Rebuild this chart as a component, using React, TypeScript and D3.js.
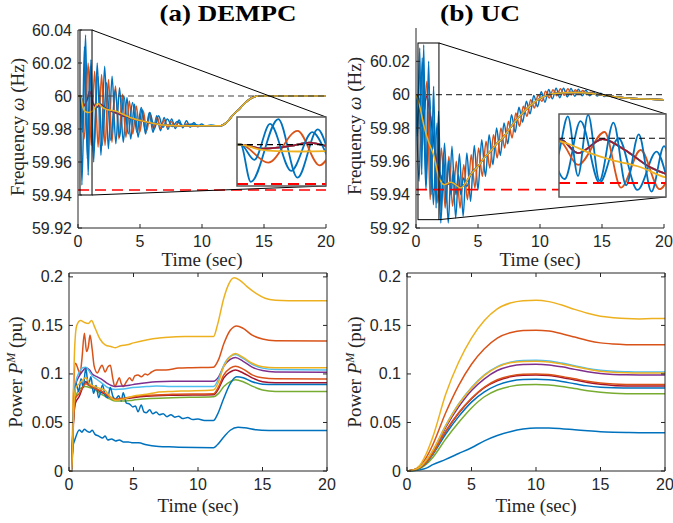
import * as d3 from 'd3'

type Pt = [number, number]

// ---------- data ----------
const timeTicks = [0, 5, 10, 15, 20]
const freqTicksA = [59.92, 59.94, 59.96, 59.98, 60, 60.02, 60.04]
const freqTicksB = [59.92, 59.94, 59.96, 59.98, 60, 60.02]
const powerTicks = [0, 0.05, 0.1, 0.15, 0.2]
const nominalHz = 60
const limitHz = 59.943
const zoomA = { t: [0.16, 1.13], f: [59.94, 60.04] }
const zoomB = { t: [0.16, 1.85], f: [59.925, 60.031] }

// (a) DEMPC frequency, read as peaks / troughs
const fA_blue1: Pt[] = [[0,60],[0.2,60],[0.31,59.946],[0.61,60.037],[0.82,59.952],[1.04,60.022],[1.26,59.96],[1.55,60.02],[1.85,59.964],[2.15,60.018],[2.45,59.968],[2.75,60.012],[3.05,59.971],[3.35,60.005],[3.65,59.972],[3.95,59.999],[4.25,59.974],[4.55,59.995],[4.85,59.975],[5.15,59.992],[5.45,59.977],[5.75,59.99],[6.05,59.978],[6.35,59.988],[6.65,59.979],[6.95,59.987],[7.25,59.9798],[7.55,59.986],[7.85,59.9803],[8.15,59.9855],[8.45,59.9807],[8.75,59.985],[9.05,59.981],[9.35,59.984],[9.65,59.9813],[9.95,59.983],[10.3,59.9818],[10.7,59.9825],[11.1,59.982],[11.5,59.982],[12,59.984],[12.5,59.9885],[13,59.992],[13.5,59.996],[14,59.9988],[14.5,60],[20,60]]
const fA_orange: Pt[] = [[0,60],[0.2,60],[0.5,59.974],[0.82,60.02],[1.06,59.97],[1.34,60.015],[1.62,59.969],[1.9,60.013],[2.18,59.97],[2.46,60.01],[2.74,59.972],[3.02,60.006],[3.3,59.974],[3.58,60.001],[3.86,59.975],[4.14,59.997],[4.42,59.977],[4.7,59.994],[4.98,59.978],[5.26,59.991],[5.54,59.979],[5.82,59.989],[6.1,59.98],[6.38,59.987],[6.66,59.9805],[6.94,59.9855],[7.22,59.981],[7.5,59.9845],[7.8,59.9813],[8.1,59.984],[8.4,59.9815],[8.8,59.983],[9.4,59.982],[11.5,59.982],[12,59.984],[12.5,59.9885],[13,59.992],[13.5,59.996],[14,59.9988],[14.5,60],[20,60]]
const fA_blue2: Pt[] = [[0,60],[0.2,60],[0.35,59.978],[0.52,60.03],[0.75,59.962],[0.98,60.018],[1.25,59.965],[1.6,60.012],[1.95,59.97],[2.3,60.008],[2.65,59.973],[3.0,60.004],[3.35,59.975],[3.7,60.0],[4.05,59.977],[4.4,59.996],[4.75,59.978],[5.1,59.993],[5.45,59.979],[5.8,59.99],[6.15,59.98],[6.5,59.988],[6.85,59.981],[7.2,59.986],[7.6,59.9815],[8.0,59.9845],[8.5,59.982],[9.2,59.983],[10,59.982],[11.5,59.982],[12,59.984],[12.5,59.9885],[13,59.992],[13.5,59.996],[14,59.9988],[14.5,60],[20,60]]
const fA_wave: Pt[] = [[0,60],[0.2,60],[0.45,59.994],[0.75,59.998],[0.95,60.003],[1.2,59.996],[1.5,59.993],[1.8,59.995],[2.2,59.993],[2.6,59.991],[3.0,59.99],[3.6,59.988],[4.2,59.9865],[5.2,59.9848],[6,59.9835],[6.9,59.9824],[8,59.982],[11.5,59.982],[12,59.984],[12.5,59.9885],[13,59.992],[13.5,59.996],[14,59.9988],[14.5,60],[20,60]]
const fA_mean: Pt[] = [[0,60],[0.2,60],[0.4,59.993],[0.6,59.9905],[0.85,59.99],[1.2,59.991],[1.6,59.9955],[2.0,59.993],[2.5,59.9915],[3.0,59.991],[3.6,59.989],[4.2,59.987],[5.2,59.9848],[6,59.9835],[6.9,59.9824],[8,59.982],[11.5,59.982],[12,59.984],[12.5,59.9885],[13,59.992],[13.5,59.996],[14,59.9988],[14.5,60],[20,60]]

// (b) UC frequency
const fB_blue1: Pt[] = [[0,60],[0.25,59.948],[0.5,60.022],[0.8,59.943],[1.1,60.0],[1.4,59.934],[1.7,59.983],[2.0,59.923],[2.3,59.971],[2.6,59.923],[2.9,59.969],[3.2,59.926],[3.5,59.9645],[3.8,59.927],[4.1,59.965],[4.4,59.936],[4.7,59.9695],[5.0,59.943],[5.3,59.973],[5.6,59.951],[5.9,59.976],[6.2,59.958],[6.5,59.98],[6.8,59.9635],[7.1,59.983],[7.4,59.9705],[7.7,59.988],[8.0,59.9775],[8.3,59.9925],[8.6,59.9835],[8.9,59.996],[9.2,59.9885],[9.5,59.9995],[9.8,59.9927],[10.1,60.0018],[10.4,59.9955],[10.7,60.0031],[11.0,59.9975],[11.3,60.0038],[11.6,59.9982],[11.9,60.0039],[12.2,59.9987],[12.5,60.0037],[12.8,59.9991],[13.1,60.0033],[13.4,59.9993],[13.7,60.0026],[14.0,59.9994],[14.3,60.0017],[14.6,59.9992],[14.9,60.0008],[15.2,59.9989],[15.5,59.9996],[16,59.9988],[17,59.998],[18,59.9975],[19,59.9972],[20,59.997]]
const fB_orange: Pt[] = [[0,60],[0.2,59.995],[0.46,59.966],[0.88,60.008],[1.14,59.937],[1.45,59.985],[1.75,59.935],[2.05,59.968],[2.35,59.932],[2.65,59.963],[2.95,59.933],[3.25,59.96],[3.55,59.932],[3.85,59.958],[4.15,59.937],[4.45,59.964],[4.75,59.944],[5.05,59.968],[5.35,59.951],[5.65,59.972],[5.95,59.956],[6.25,59.976],[6.55,59.962],[6.85,59.98],[7.15,59.968],[7.45,59.984],[7.75,59.974],[8.05,59.989],[8.35,59.981],[8.65,59.993],[8.95,59.987],[9.25,59.997],[9.55,59.992],[9.85,60.0],[10.15,59.996],[10.45,60.002],[10.75,59.998],[11.05,60.003],[11.35,59.9993],[11.65,60.0035],[11.95,59.9997],[12.25,60.0035],[12.55,60.0],[12.85,60.003],[13.15,60.0003],[13.45,60.0025],[13.75,60.0002],[14.1,60.0015],[14.5,60.0003],[15,59.9998],[16,59.9988],[17,59.998],[18,59.9975],[19,59.9972],[20,59.997]]
const fB_blue2: Pt[] = [[0,60],[0.12,59.975],[0.3,60.028],[0.46,59.952],[0.62,60.03],[0.8,59.946],[1.02,60.02],[1.22,59.94],[1.42,60.005],[1.62,59.932],[1.82,59.99],[2.02,59.93],[2.22,59.965],[2.42,59.935],[2.62,59.96],[2.82,59.94],[3.02,59.955],[3.22,59.94],[3.42,59.952],[3.62,59.94],[3.82,59.95],[4.1,59.945],[4.4,59.952],[5.0,59.957],[5.5,59.962],[6.0,59.966],[6.5,59.9705],[7.0,59.974],[7.5,59.979],[8,59.984],[8.6,59.989],[9.3,59.994],[10.2,59.9985],[11,60.0005],[12,60.0012],[13,60.0013],[14,60.0008],[15,59.9998],[16,59.9988],[17,59.998],[18,59.9975],[19,59.9972],[20,59.997]]
const fB_wave: Pt[] = [[0,60],[0.2,59.998],[0.46,59.981],[0.85,59.999],[1.2,59.985],[1.6,59.963],[2.0,59.951],[2.4,59.946],[2.8,59.947],[3.2,59.946],[3.6,59.9445],[4.0,59.947],[4.4,59.952],[5.0,59.957],[5.5,59.962],[6.0,59.966],[6.5,59.9705],[7.0,59.974],[7.5,59.979],[8.0,59.984],[8.6,59.989],[9.3,59.994],[10.2,59.9985],[11,60.0005],[12,60.0012],[13,60.0013],[14,60.0008],[15,59.9998],[16,59.9988],[17,59.998],[18,59.9975],[19,59.9972],[20,59.997]]
const fB_mean: Pt[] = [[0,60],[0.3,59.993],[0.65,59.981],[1.0,59.972],[1.45,59.963],[1.85,59.95],[2.3,59.946],[2.8,59.9475],[3.1,59.9465],[3.6,59.944],[4.0,59.947],[4.4,59.952],[5.0,59.957],[5.5,59.962],[6.0,59.966],[6.5,59.9705],[7.0,59.974],[7.5,59.979],[8.0,59.984],[8.6,59.989],[9.3,59.994],[10.2,59.9985],[11,60.0005],[12,60.0012],[13,60.0013],[14,60.0008],[15,59.9998],[16,59.9988],[17,59.998],[18,59.9975],[19,59.9972],[20,59.997]]

// (a) DEMPC mechanical power
const pA_blueLow: Pt[] = [[0,0],[0.2,0],[0.3,0.025],[0.45,0.032],[0.8,0.0423],[1.0,0.04],[1.19,0.043],[1.4,0.041],[1.6,0.04],[1.8,0.042],[2.0,0.038],[2.3,0.036],[2.6,0.034],[2.8,0.036],[3.0,0.032],[3.3,0.033],[3.6,0.031],[3.9,0.032],[4.2,0.03],[4.6,0.03],[4.95,0.029],[5.4,0.029],[6,0.027],[6.76,0.0254],[7.5,0.025],[8.5,0.0245],[11.2,0.024],[11.5,0.027],[12,0.035],[12.5,0.042],[13.1,0.045],[13.6,0.0445],[14.5,0.0425],[15.5,0.0418],[17,0.0416],[20,0.0416]]
const pA_orangeTop: Pt[] = [[0,0],[0.2,0],[0.35,0.08],[0.5,0.111],[0.7,0.105],[0.85,0.1],[1.0,0.115],[1.19,0.142],[1.36,0.123],[1.5,0.128],[1.63,0.14],[1.8,0.125],[1.95,0.108],[2.2,0.101],[2.4,0.106],[2.56,0.109],[2.8,0.102],[3.0,0.107],[3.2,0.109],[3.4,0.095],[3.55,0.087],[3.75,0.092],[3.9,0.096],[4.05,0.09],[4.2,0.087],[4.45,0.092],[4.7,0.096],[4.9,0.093],[5.1,0.098],[5.35,0.099],[5.6,0.097],[5.9,0.1],[6.1,0.099],[6.4,0.102],[6.76,0.104],[7.5,0.104],[8.5,0.106],[9.5,0.1065],[11.2,0.107],[11.6,0.115],[12,0.131],[12.5,0.145],[13,0.1495],[13.5,0.147],[14.2,0.14],[15,0.136],[16,0.1343],[20,0.134]]
const pA_yellowTop: Pt[] = [[0,0],[0.2,0],[0.3,0.06],[0.45,0.13],[0.6,0.15],[0.9,0.155],[1.2,0.153],[1.5,0.152],[1.75,0.155],[2.0,0.148],[2.4,0.136],[2.8,0.13],[3.3,0.128],[3.6,0.127],[4.0,0.129],[4.5,0.13],[5,0.132],[6,0.135],[7,0.137],[8,0.138],[9,0.1385],[11.2,0.1385],[11.5,0.15],[12,0.178],[12.4,0.193],[12.8,0.199],[13.2,0.197],[13.8,0.19],[14.5,0.183],[15.2,0.178],[16,0.176],[17,0.1755],[20,0.1755]]
const pA_purple: Pt[] = [[0,0],[0.2,0],[0.35,0.06],[0.5,0.088],[0.8,0.098],[1.0,0.102],[1.3,0.106],[1.6,0.104],[1.8,0.1],[2.2,0.097],[2.6,0.094],[3.0,0.09],[3.6,0.087],[4.2,0.0875],[4.95,0.089],[6,0.091],[6.76,0.092],[8,0.0925],[11.2,0.0925],[11.6,0.097],[12,0.108],[12.5,0.115],[12.9,0.117],[13.5,0.113],[14.2,0.107],[15,0.1035],[16,0.102],[20,0.1017]]
const pA_green: Pt[] = [[0,0],[0.2,0],[0.3,0.04],[0.5,0.075],[0.8,0.084],[1.0,0.086],[1.3,0.087],[1.6,0.086],[2.0,0.084],[2.4,0.08],[2.8,0.077],[3.2,0.074],[3.6,0.072],[4.2,0.072],[4.95,0.073],[6,0.0745],[8,0.0755],[11.2,0.0765],[11.6,0.08],[12,0.087],[12.5,0.092],[12.9,0.094],[13.5,0.092],[14.2,0.0875],[15,0.0835],[16,0.082],[20,0.0818]]
const pA_lightblue: Pt[] = [[0,0],[0.2,0],[0.35,0.06],[0.5,0.09],[0.8,0.102],[1.0,0.106],[1.3,0.107],[1.6,0.102],[1.8,0.098],[2.2,0.094],[2.6,0.09],[3.0,0.086],[3.6,0.084],[4.2,0.0845],[4.95,0.086],[6,0.087],[6.76,0.0875],[8,0.087],[11.2,0.087],[11.6,0.095],[12,0.109],[12.5,0.118],[12.9,0.12],[13.5,0.116],[14.2,0.11],[15,0.106],[16,0.1045],[20,0.104]]
const pA_darkred: Pt[] = [[0,0],[0.2,0],[0.3,0.04],[0.5,0.07],[0.8,0.077],[1.0,0.084],[1.3,0.092],[1.6,0.088],[2.0,0.085],[2.4,0.082],[2.8,0.079],[3.2,0.076],[3.6,0.0735],[4.2,0.074],[4.95,0.0755],[6,0.077],[8,0.078],[11.2,0.0785],[11.6,0.085],[12,0.096],[12.5,0.102],[12.9,0.104],[13.5,0.101],[14.2,0.096],[15,0.092],[16,0.091],[20,0.091]]
const pA_blueMid: Pt[] = [[0,0],[0.2,0],[0.3,0.04],[0.54,0.0905],[0.75,0.082],[0.93,0.095],[1.1,0.086],[1.3,0.106],[1.5,0.088],[1.7,0.097],[1.9,0.08],[2.1,0.088],[2.3,0.0755],[2.6,0.0887],[2.8,0.078],[3.0,0.0755],[3.2,0.086],[3.4,0.077],[3.6,0.074],[3.85,0.0775],[4.05,0.072],[4.2,0.0805],[4.45,0.07],[4.7,0.069],[4.95,0.066],[5.15,0.067],[5.35,0.061],[5.6,0.068],[5.8,0.061],[6.0,0.06],[6.25,0.063],[6.5,0.059],[6.76,0.0608],[7.0,0.058],[7.3,0.059],[7.6,0.056],[7.9,0.058],[8.2,0.0555],[8.5,0.0565],[8.8,0.054],[9.2,0.055],[9.6,0.053],[10,0.0535],[10.5,0.052],[11.2,0.052],[11.5,0.058],[12,0.075],[12.5,0.09],[13,0.097],[13.5,0.096],[14.2,0.092],[15,0.0895],[16,0.089],[20,0.089]]
const pA_orange2: Pt[] = [[0,0],[0.2,0],[0.35,0.05],[0.5,0.075],[0.8,0.08],[1.0,0.085],[1.3,0.09],[1.6,0.088],[2.0,0.085],[2.4,0.083],[2.8,0.08],[3.2,0.076],[3.6,0.074],[4.2,0.075],[4.95,0.0765],[6,0.078],[8,0.079],[11.2,0.0795],[11.6,0.087],[12,0.099],[12.5,0.106],[12.9,0.108],[13.5,0.105],[14.2,0.099],[15,0.096],[16,0.095],[20,0.0948]]
const pA_yellow2: Pt[] = [[0,0],[0.2,0],[0.35,0.06],[0.5,0.085],[0.8,0.09],[1.0,0.093],[1.3,0.096],[1.6,0.09],[2.0,0.087],[2.4,0.085],[2.8,0.083],[3.1,0.078],[3.6,0.073],[4.2,0.074],[4.95,0.077],[6,0.079],[6.76,0.081],[8,0.082],[9,0.0825],[11.2,0.0835],[11.6,0.092],[12,0.108],[12.5,0.118],[12.9,0.121],[13.5,0.117],[14.2,0.111],[15,0.1075],[16,0.1065],[20,0.1065]]

// (b) UC mechanical power, sampled on a common time grid
const timeUC = [0, 0.5, 1, 1.5, 2, 3, 4, 5, 6, 7, 8, 9, 10, 11, 12, 13, 14, 15, 16, 17, 18, 19, 20]
const pB_blueLow = [0, 0.0003, 0.0012, 0.003, 0.0065, 0.012, 0.018, 0.024, 0.031, 0.0365, 0.0405, 0.0432, 0.0443, 0.0442, 0.0435, 0.0425, 0.0414, 0.0405, 0.04, 0.0397, 0.0395, 0.0395, 0.0395]
const pB_orangeTop = [0, 0.001, 0.005, 0.014, 0.027, 0.06, 0.088, 0.11, 0.126, 0.137, 0.1425, 0.1448, 0.145, 0.1442, 0.1415, 0.138, 0.1345, 0.132, 0.1308, 0.1302, 0.13, 0.13, 0.13]
const pB_yellowTop = [0, 0.001, 0.006, 0.018, 0.035, 0.079, 0.112, 0.137, 0.155, 0.167, 0.173, 0.1755, 0.176, 0.1745, 0.171, 0.1665, 0.1625, 0.1595, 0.158, 0.157, 0.1567, 0.157, 0.157]
const pB_purple = [0, 0.001, 0.004, 0.01, 0.02, 0.045, 0.066, 0.083, 0.095, 0.1035, 0.108, 0.1098, 0.11, 0.1093, 0.1073, 0.1047, 0.1022, 0.1004, 0.0995, 0.0991, 0.099, 0.099, 0.099]
const pB_green = [0, 0.0005, 0.0025, 0.007, 0.014, 0.033, 0.05, 0.065, 0.0765, 0.0835, 0.0872, 0.0888, 0.089, 0.0885, 0.087, 0.085, 0.0828, 0.0812, 0.0802, 0.0797, 0.0795, 0.0795, 0.0795]
const pB_lightblue = [0, 0.001, 0.004, 0.011, 0.021, 0.047, 0.069, 0.086, 0.099, 0.1075, 0.112, 0.1138, 0.114, 0.1133, 0.1112, 0.1085, 0.1057, 0.1038, 0.1028, 0.1023, 0.102, 0.102, 0.102]
const pB_darkred = [0, 0.001, 0.0035, 0.009, 0.0178, 0.0405, 0.0595, 0.0745, 0.086, 0.093, 0.097, 0.0987, 0.099, 0.0983, 0.0964, 0.0938, 0.0912, 0.0893, 0.0882, 0.0877, 0.0875, 0.0875, 0.0875]
const pB_blueMid = [0, 0.0008, 0.003, 0.0085, 0.017, 0.038, 0.056, 0.071, 0.0815, 0.0885, 0.0925, 0.0942, 0.0945, 0.0939, 0.0922, 0.0899, 0.0877, 0.0864, 0.0858, 0.0856, 0.0855, 0.0855, 0.0855]
const pB_orange2 = [0, 0.001, 0.0035, 0.009, 0.018, 0.041, 0.06, 0.075, 0.0865, 0.094, 0.098, 0.0998, 0.1, 0.0993, 0.0975, 0.095, 0.0925, 0.0907, 0.0897, 0.0892, 0.089, 0.089, 0.089]
const pB_yellow2 = [0, 0.001, 0.004, 0.011, 0.021, 0.0465, 0.0685, 0.0855, 0.0985, 0.107, 0.1115, 0.1128, 0.113, 0.1123, 0.1103, 0.1077, 0.105, 0.1028, 0.1017, 0.1012, 0.101, 0.101, 0.101]

const C = {
  blue: '#0072BD', orange: '#D95319', yellow: '#EDB120', purple: '#7E2F8E',
  green: '#77AC30', lightblue: '#4DBEEE', darkred: '#A2142F',
}

const pairs = (ys: number[]): Pt[] => timeUC.map((t, i) => [t, ys[i]])

const freqA = [
  { c: C.blue, d: fA_blue1 }, { c: C.orange, d: fA_orange }, { c: C.yellow, d: fA_wave },
  { c: C.purple, d: fA_wave }, { c: C.green, d: fA_wave }, { c: C.lightblue, d: fA_wave },
  { c: C.darkred, d: fA_wave }, { c: C.blue, d: fA_blue2 }, { c: C.yellow, d: fA_mean },
]
const freqB = [
  { c: C.blue, d: fB_blue1 }, { c: C.orange, d: fB_orange }, { c: C.yellow, d: fB_wave },
  { c: C.purple, d: fB_wave }, { c: C.green, d: fB_wave }, { c: C.lightblue, d: fB_wave },
  { c: C.darkred, d: fB_wave }, { c: C.blue, d: fB_blue2 }, { c: C.yellow, d: fB_mean },
]
const powerA = [
  { c: C.blue, d: pA_blueLow }, { c: C.orange, d: pA_orangeTop }, { c: C.yellow, d: pA_yellowTop },
  { c: C.purple, d: pA_purple }, { c: C.green, d: pA_green }, { c: C.lightblue, d: pA_lightblue },
  { c: C.darkred, d: pA_darkred }, { c: C.blue, d: pA_blueMid }, { c: C.orange, d: pA_orange2 },
  { c: C.yellow, d: pA_yellow2 },
]
const powerB = [
  { c: C.blue, d: pairs(pB_blueLow) }, { c: C.orange, d: pairs(pB_orangeTop) }, { c: C.yellow, d: pairs(pB_yellowTop) },
  { c: C.purple, d: pairs(pB_purple) }, { c: C.green, d: pairs(pB_green) }, { c: C.lightblue, d: pairs(pB_lightblue) },
  { c: C.darkred, d: pairs(pB_darkred) }, { c: C.blue, d: pairs(pB_blueMid) }, { c: C.orange, d: pairs(pB_orange2) },
  { c: C.yellow, d: pairs(pB_yellow2) },
]

// ---------- drawing ----------
const AX = '#262626'
const SANS = '"Liberation Sans", Arial, sans-serif'
const SERIF = '"Liberation Serif", "Times New Roman", serif'
const fmt = (v: number) => String(+v.toFixed(2))

type Lin = d3.ScaleLinear<number, number>

const lineGen = (x: Lin, y: Lin) =>
  d3.line<Pt>().x((d) => x(d[0])).y((d) => y(d[1])).curve(d3.curveMonotoneX)

function Axes({ x, y, yTicks, box }: { x: Lin; y: Lin; yTicks: number[]; box: boolean }) {
  const [x0, x1] = x.range()
  const [y0, y1] = y.range()
  const tl = 4
  return (
    <g>
      <line x1={x0} x2={x1} y1={y0} y2={y0} stroke={AX} strokeWidth={1} />
      <line x1={x0} x2={x0} y1={y0} y2={y1} stroke={AX} strokeWidth={1} />
      {box && <line x1={x0} x2={x1} y1={y1} y2={y1} stroke={AX} strokeWidth={1} />}
      {box && <line x1={x1} x2={x1} y1={y0} y2={y1} stroke={AX} strokeWidth={1} />}
      {timeTicks.map((t) => (
        <g key={'x' + t}>
          <line x1={x(t)} x2={x(t)} y1={y0} y2={y0 - tl} stroke={AX} />
          {box && <line x1={x(t)} x2={x(t)} y1={y1} y2={y1 + tl} stroke={AX} />}
          <text x={x(t)} y={y0 + 19} textAnchor="middle" fontFamily={SANS} fontSize={16} fill={AX}>{t}</text>
        </g>
      ))}
      {yTicks.map((v) => (
        <g key={'y' + v}>
          <line x1={x0} x2={x0 + tl} y1={y(v)} y2={y(v)} stroke={AX} />
          {box && <line x1={x1} x2={x1 - tl} y1={y(v)} y2={y(v)} stroke={AX} />}
          <text x={x0 - 6} y={y(v) + 5.5} textAnchor="end" fontFamily={SANS} fontSize={16} fill={AX}>{fmt(v)}</text>
        </g>
      ))}
    </g>
  )
}

function FreqPanel(props: {
  id: string; x: Lin; y: Lin; yTicks: number[]; series: { c: string; d: Pt[] }[]
  zoom: { t: number[]; f: number[] }; inset: { x0: number; x1: number; y0: number; y1: number }
  labelX: number
}) {
  const { id, x, y, yTicks, series, zoom, inset, labelX } = props
  const gen = lineGen(x, y)
  const ix = d3.scaleLinear().domain(zoom.t).range([inset.x0, inset.x1])
  const iy = d3.scaleLinear().domain(zoom.f).range([inset.y1, inset.y0])
  const igen = lineGen(ix, iy)
  const [xa, xb] = x.range()
  const [ya, yb] = y.range()
  const rx0 = x(zoom.t[0]), rx1 = x(zoom.t[1]), ry0 = y(zoom.f[1]), ry1 = y(zoom.f[0])
  return (
    <g>
      <defs>
        <clipPath id={'clip' + id}>
          <rect x={xa} y={yb} width={xb - xa} height={ya - yb} />
        </clipPath>
        <clipPath id={'inset' + id}>
          <rect x={inset.x0} y={inset.y0} width={inset.x1 - inset.x0} height={inset.y1 - inset.y0} />
        </clipPath>
      </defs>
      <g clipPath={`url(#clip${id})`}>
        {series.map((s, i) => (
          <path key={i} d={gen(s.d) ?? ''} fill="none" stroke={s.c} strokeWidth={1.5} strokeLinejoin="round" />
        ))}
      </g>
      <line x1={xa} x2={xb} y1={y(nominalHz)} y2={y(nominalHz)} stroke="#404040" strokeWidth={1.2} strokeDasharray="6,4" />
      <line x1={xa} x2={xb} y1={y(limitHz)} y2={y(limitHz)} stroke="#FF0000" strokeWidth={1.6} strokeDasharray="11,6" />
      <rect x={rx0} y={ry0} width={rx1 - rx0} height={ry1 - ry0} fill="none" stroke="#000" strokeWidth={1} />
      <line x1={rx1} y1={ry0} x2={inset.x1} y2={inset.y0} stroke="#000" strokeWidth={1} />
      <line x1={rx1} y1={ry1} x2={inset.x1} y2={inset.y1} stroke="#000" strokeWidth={1} />
      <rect x={inset.x0} y={inset.y0} width={inset.x1 - inset.x0} height={inset.y1 - inset.y0} fill="#fff" />
      <g clipPath={`url(#inset${id})`}>
        {series.map((s, i) => (
          <path key={i} d={igen(s.d) ?? ''} fill="none" stroke={s.c} strokeWidth={1.8} strokeLinejoin="round" />
        ))}
        <line x1={inset.x0} x2={inset.x1} y1={iy(nominalHz)} y2={iy(nominalHz)} stroke="#000" strokeWidth={1.2} strokeDasharray="6,4" />
        <line x1={inset.x0} x2={inset.x1} y1={iy(limitHz)} y2={iy(limitHz)} stroke="#FF0000" strokeWidth={2} strokeDasharray="11,6" />
      </g>
      <rect x={inset.x0} y={inset.y0} width={inset.x1 - inset.x0} height={inset.y1 - inset.y0} fill="none" stroke="#5a5a5a" strokeWidth={1.5} />
      <Axes x={x} y={y} yTicks={yTicks} box={false} />
      <text transform={`translate(${labelX},${(ya + yb) / 2 - 2}) rotate(-90)`} textAnchor="middle" fontFamily={SERIF} fontSize={19} fill={AX}>
        Frequency <tspan fontStyle="italic">ω</tspan> (Hz)
      </text>
      <text x={(xa + xb) / 2} y={ya + 38} textAnchor="middle" fontFamily={SERIF} fontSize={19} fill={AX}>Time (sec)</text>
    </g>
  )
}

function PowerPanel({ x, y, series, labelX }: { x: Lin; y: Lin; series: { c: string; d: Pt[] }[]; labelX: number }) {
  const gen = lineGen(x, y)
  const [xa, xb] = x.range()
  const [ya, yb] = y.range()
  return (
    <g>
      {series.map((s, i) => (
        <path key={i} d={gen(s.d) ?? ''} fill="none" stroke={s.c} strokeWidth={1.5} strokeLinejoin="round" />
      ))}
      <Axes x={x} y={y} yTicks={powerTicks} box={true} />
      <text transform={`translate(${labelX},${(ya + yb) / 2}) rotate(-90)`} textAnchor="middle" fontFamily={SERIF} fontSize={19} fill={AX}>
        Power <tspan fontStyle="italic">P</tspan><tspan fontStyle="italic" fontSize={12} dy={-7}>M</tspan><tspan dy={7}> (pu)</tspan>
      </text>
      <text x={(xa + xb) / 2} y={ya + 41} textAnchor="middle" fontFamily={SERIF} fontSize={19} fill={AX}>Time (sec)</text>
    </g>
  )
}

export default function App() {
  const xTL = d3.scaleLinear().domain([0, 20]).range([78, 326])
  const yTL = d3.scaleLinear().domain([59.92, 60.04]).range([228, 30])
  const xTR = d3.scaleLinear().domain([0, 20]).range([416, 664])
  const yTR = d3.scaleLinear().domain([59.92, 60.04]).range([228, 28])
  const xBL = d3.scaleLinear().domain([0, 20]).range([69, 327])
  const yBL = d3.scaleLinear().domain([0, 0.204]).range([471, 273])
  const xBR = d3.scaleLinear().domain([0, 20]).range([407, 665])
  const yBR = d3.scaleLinear().domain([0, 0.204]).range([471, 273])

  return (
    <svg width={673} height={523} style={{ position: 'absolute', left: 0, top: 0, background: '#fff' }}>
      <rect width={673} height={523} fill="#fff" />
      <text x={228} y={21} textAnchor="middle" fontFamily={SERIF} fontWeight="bold" fontSize={24} textLength={137} lengthAdjust="spacingAndGlyphs">(a) DEMPC</text>
      <text x={480} y={21} textAnchor="middle" fontFamily={SERIF} fontWeight="bold" fontSize={24} textLength={80} lengthAdjust="spacingAndGlyphs">(b) UC</text>
      <FreqPanel id="A" x={xTL} y={yTL} yTicks={freqTicksA} series={freqA} zoom={zoomA}
        inset={{ x0: 237, x1: 326, y0: 117, y1: 186 }} labelX={24} />
      <FreqPanel id="B" x={xTR} y={yTR} yTicks={freqTicksB} series={freqB} zoom={zoomB}
        inset={{ x0: 559, x1: 666, y0: 114, y1: 197 }} labelX={361} />
      <PowerPanel x={xBL} y={yBL} series={powerA} labelX={22} />
      <PowerPanel x={xBR} y={yBR} series={powerB} labelX={361} />
    </svg>
  )
}
